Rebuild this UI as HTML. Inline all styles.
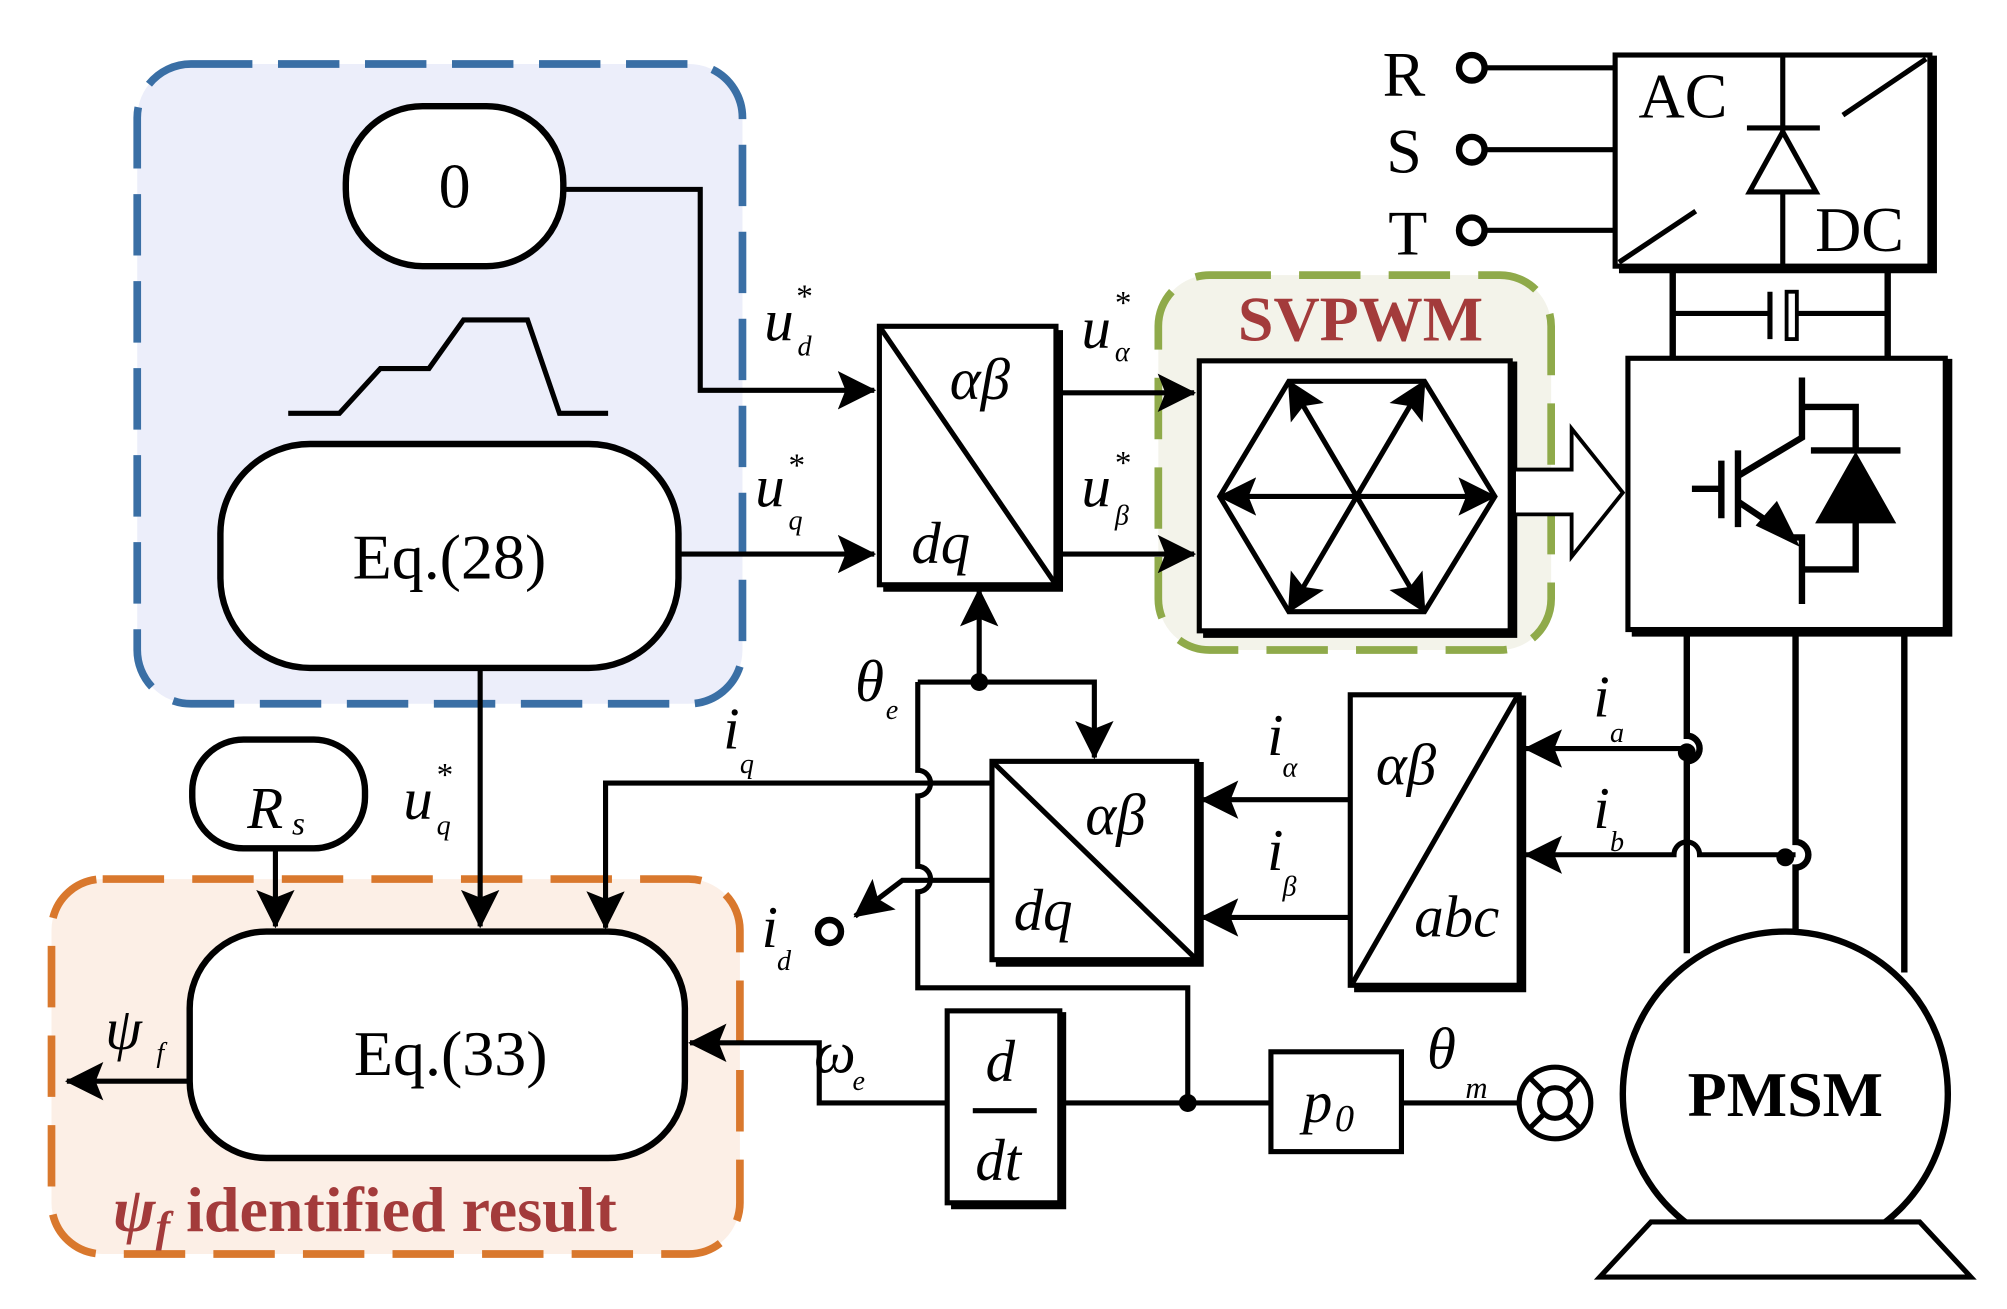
<!DOCTYPE html>
<html><head><meta charset="utf-8"><style>html,body{margin:0;padding:0;background:#fff}svg{display:block}</style></head>
<body>
<svg width="2007" height="1309" viewBox="0 0 1568 1023" xmlns="http://www.w3.org/2000/svg" font-family="Liberation Serif, serif">
<defs>
<marker id="A" viewBox="0 0 10 10" refX="9.5" refY="5" markerWidth="30" markerHeight="30" orient="auto" markerUnits="userSpaceOnUse"><path d="M0,0 L10,5 L0,10 L2,5 z" fill="#000"/></marker>
</defs>
<rect x="107" y="50" width="473" height="500" rx="42" fill="#eceefa" stroke="#3a6fa5" stroke-width="6" stroke-dasharray="48 20"/>
<rect x="905" y="215" width="307" height="293" rx="40" fill="#f3f3ea" stroke="#8faa4a" stroke-width="6" stroke-dasharray="48 22"/>
<rect x="40" y="687" width="538" height="293" rx="40" fill="#fcefe6" stroke="#d9782d" stroke-width="6" stroke-dasharray="48 22"/>

<g fill="none" stroke="#000" stroke-width="4">
<rect x="270" y="83" width="170" height="125" rx="60" fill="#fff" stroke-width="5"/>
<polyline points="225,323 265,323 297,288 335,288 362,250 412,250 437,323 475,323"/>
<rect x="172" y="347" width="358" height="175" rx="70" fill="#fff" stroke-width="5"/>
<polyline points="440,148 547,148 547,305 683,305" marker-end="url(#A)"/>
<line x1="530" y1="433" x2="683" y2="433" marker-end="url(#A)"/>
<rect x="687" y="255" width="138" height="202" fill="#fff" stroke-width="4"/>
<polyline points="690,460 828,460 828,258" stroke-width="5"/>
<line x1="687" y1="255" x2="825" y2="457" stroke-width="4"/>
<line x1="825" y1="307" x2="933" y2="307" marker-end="url(#A)"/>
<line x1="825" y1="433" x2="933" y2="433" marker-end="url(#A)"/>
<rect x="937" y="282" width="243" height="211" fill="#fff" stroke-width="4"/>
<polyline points="1180,285 1183,285 1183,496 940,496" stroke-width="5"/>
<polygon points="953,388 1007,298 1113,298 1168,388 1113,478 1007,478" stroke-width="4"/>
<line x1="1060" y1="388" x2="1007" y2="298" marker-end="url(#A)"/>
<line x1="1060" y1="388" x2="1113" y2="298" marker-end="url(#A)"/>
<line x1="1060" y1="388" x2="953" y2="388" marker-end="url(#A)"/>
<line x1="1060" y1="388" x2="1168" y2="388" marker-end="url(#A)"/>
<line x1="1060" y1="388" x2="1007" y2="478" marker-end="url(#A)"/>
<line x1="1060" y1="388" x2="1113" y2="478" marker-end="url(#A)"/>
<polygon points="1183,367 1228,367 1228,335 1268,385 1228,435 1228,402 1183,402" fill="#fff" stroke-width="3"/>
<rect x="1272" y="280" width="248" height="212" fill="#fff" stroke-width="4"/>
<polyline points="1520,283 1523,283 1523,495 1275,495" stroke-width="5"/>
<line x1="1322" y1="382" x2="1345" y2="382" stroke-width="5"/>
<line x1="1345" y1="360" x2="1345" y2="405" stroke-width="5"/>
<line x1="1358" y1="352" x2="1358" y2="412" stroke-width="5"/>
<polyline points="1358,372 1408,342 1408,295" stroke-width="5"/>
<polyline points="1358,392 1400,420 1408,420 1408,472" stroke-width="5"/>
<polygon points="1402,423 1375,410 1388,395" fill="#000"/>
<polyline points="1408,318 1450,318 1450,350" stroke-width="5"/>
<polyline points="1408,445 1450,445 1450,408" stroke-width="5"/>
<polygon points="1420,408 1480,408 1450,355" fill="#000" stroke-width="2"/>
<line x1="1415" y1="352" x2="1485" y2="352" stroke-width="5"/>
<rect x="1262" y="43" width="246" height="165" fill="#fff" stroke-width="4"/>
<polyline points="1508,46 1511,46 1511,211 1265,211" stroke-width="5"/>
<line x1="1265" y1="205" x2="1325" y2="165" stroke-width="4"/>
<line x1="1440" y1="90" x2="1505" y2="46" stroke-width="4"/>
<line x1="1393" y1="43" x2="1393" y2="208" stroke-width="4"/>
<line x1="1365" y1="100" x2="1422" y2="100" stroke-width="4"/>
<polygon points="1393,103 1367,150 1419,150" fill="#fff" stroke-width="4"/>
<line x1="1160" y1="53" x2="1262" y2="53"/><line x1="1160" y1="117" x2="1262" y2="117"/><line x1="1160" y1="180" x2="1262" y2="180"/>
<circle cx="1150" cy="53" r="10" fill="#fff" stroke-width="5"/><circle cx="1150" cy="117" r="10" fill="#fff" stroke-width="5"/><circle cx="1150" cy="180" r="10" fill="#fff" stroke-width="5"/>
<line x1="1307" y1="211" x2="1307" y2="280" stroke-width="5"/>
<line x1="1475" y1="211" x2="1475" y2="280" stroke-width="5"/>
<line x1="1307" y1="245" x2="1383" y2="245" stroke-width="4"/>
<line x1="1403" y1="245" x2="1475" y2="245" stroke-width="4"/>
<line x1="1383" y1="228" x2="1383" y2="265" stroke-width="4"/>
<rect x="1396" y="228" width="8" height="37" stroke-width="3"/>
<path d="M1318,495 V575 a10,10 0 0 1 0,20 V745" stroke-width="5"/>
<path d="M1403,495 V658 a10,10 0 0 1 0,20 V730" stroke-width="5"/>
<path d="M1488,495 V760" stroke-width="5"/>
<line x1="1318" y1="585" x2="1192" y2="585" marker-end="url(#A)"/>
<path d="M1403,668 H1328 a10,10 0 0 0 -20,0 H1192" marker-end="url(#A)"/>
<circle cx="1395" cy="855" r="127" fill="#fff" stroke-width="5"/>
<polygon points="1250,998 1540,998 1500,955 1290,955" fill="#fff" stroke-width="4"/>
<rect x="1055" y="543" width="132" height="227" fill="#fff" stroke-width="4"/>
<polyline points="1187,546 1190,546 1190,773 1058,773" stroke-width="5"/>
<line x1="1057" y1="768" x2="1185" y2="545" stroke-width="4"/>
<line x1="1055" y1="625" x2="939" y2="625" marker-end="url(#A)"/>
<line x1="1055" y1="717" x2="939" y2="717" marker-end="url(#A)"/>
<rect x="775" y="595" width="160" height="155" fill="#fff" stroke-width="4"/>
<polyline points="935,598 938,598 938,753 778,753" stroke-width="5"/>
<line x1="775" y1="595" x2="935" y2="750" stroke-width="4"/>
<line x1="765" y1="533" x2="765" y2="461" marker-end="url(#A)"/>
<polyline points="717,533 855,533 855,592" marker-end="url(#A)"/>
<path d="M717,533 V602 a10,10 0 0 1 0,20 V677 a10,10 0 0 1 0,20 V772 H928 V862"/>
<polyline points="775,612 473,612 473,725" marker-end="url(#A)"/>
<polyline points="775,688 705,688 668,716" marker-end="url(#A)"/>
<circle cx="648" cy="728" r="9" fill="#fff" stroke-width="5"/>
<rect x="150" y="578" width="135" height="85" rx="40" fill="#fff" stroke-width="5"/>
<line x1="215" y1="663" x2="215" y2="724" marker-end="url(#A)"/>
<line x1="375" y1="522" x2="375" y2="724" marker-end="url(#A)"/>
<rect x="148" y="728" width="387" height="177" rx="60" fill="#fff" stroke-width="5"/>
<line x1="148" y1="845" x2="52" y2="845" marker-end="url(#A)"/>
<polyline points="740,862 640,862 640,815 539,815" marker-end="url(#A)"/>
<rect x="740" y="790" width="88" height="150" fill="#fff" stroke-width="4"/>
<polyline points="828,793 831,793 831,943 743,943" stroke-width="4"/>
<line x1="760" y1="868" x2="810" y2="868"/>
<line x1="831" y1="862" x2="993" y2="862"/>
<rect x="993" y="822" width="102" height="78" fill="#fff" stroke-width="4"/>
<line x1="1095" y1="862" x2="1187" y2="862"/>
<circle cx="1215" cy="862" r="28" fill="#fff" stroke-width="4"/>
<circle cx="1215" cy="862" r="12" stroke-width="4"/>
<line x1="1195" y1="842" x2="1206" y2="853" stroke-width="4"/><line x1="1235" y1="842" x2="1224" y2="853" stroke-width="4"/>
<line x1="1195" y1="882" x2="1206" y2="871" stroke-width="4"/><line x1="1235" y1="882" x2="1224" y2="871" stroke-width="4"/>
</g>
<circle cx="765" cy="533" r="7"/><circle cx="928" cy="862" r="7"/>
<circle cx="1318" cy="588" r="7"/><circle cx="1395" cy="670" r="7"/>

<g font-size="50" text-anchor="middle">
<text x="355" y="162">0</text>
<text x="351" y="452">Eq.(28)</text>
<text x="352" y="840">Eq.(33)</text>
<text x="1097" y="75">R</text><text x="1097" y="135">S</text><text x="1100" y="199">T</text>
<text x="1315" y="92">AC</text><text x="1453" y="196">DC</text>
</g>
<g font-style="italic" font-size="46">
<text x="742" y="312">αβ</text><text x="712" y="440">dq</text>
<text x="848" y="652">αβ</text><text x="792" y="727">dq</text>
<text x="1075" y="613">αβ</text><text x="1105" y="732">abc</text>
<text x="770" y="845">d</text><text x="762" y="922">dt</text>
<text x="1018" y="877">p</text><text x="1043" y="884" font-size="30">0</text>
<text x="193" y="647">R</text><text x="228" y="652" font-size="26">s</text>
<text x="597" y="266">u</text><text x="623" y="278" font-size="22">d</text><text x="622" y="240" font-size="26" font-style="normal">*</text>
<text x="590" y="396">u</text><text x="616" y="414" font-size="22">q</text><text x="616" y="372" font-size="26" font-style="normal">*</text>
<text x="845" y="272">u</text><text x="871" y="282" font-size="22">α</text><text x="871" y="245" font-size="26" font-style="normal">*</text>
<text x="845" y="396">u</text><text x="871" y="410" font-size="22">β</text><text x="871" y="370" font-size="26" font-style="normal">*</text>
<text x="315" y="640">u</text><text x="341" y="652" font-size="22">q</text><text x="341" y="614" font-size="26" font-style="normal">*</text>
<text x="668" y="548">θ</text><text x="692" y="562" font-size="22">e</text>
<text x="565" y="585">i</text><text x="578" y="604" font-size="22">q</text>
<text x="990" y="590">i</text><text x="1002" y="607" font-size="22">α</text>
<text x="990" y="680">i</text><text x="1002" y="700" font-size="22">β</text>
<text x="1245" y="560">i</text><text x="1258" y="580" font-size="22">a</text>
<text x="1245" y="647">i</text><text x="1258" y="665" font-size="22">b</text>
<text x="595" y="740">i</text><text x="607" y="758" font-size="22">d</text>
<text x="82" y="820">ψ</text><text x="122" y="830" font-size="22">f</text>
<text x="636" y="838">ω</text><text x="666" y="852" font-size="22">e</text>
<text x="1115" y="835">θ</text><text x="1145" y="858" font-size="24">m</text>
</g>
<text x="1063" y="266" font-size="50" font-weight="bold" fill="#a33b3b" text-anchor="middle">SVPWM</text>
<text x="88" y="962" font-size="50" font-weight="bold" fill="#a33b3b"><tspan font-style="italic">ψ</tspan><tspan font-style="italic" font-size="34" dy="8">f</tspan><tspan dy="-8"> identified result</tspan></text>
<text x="1395" y="872" font-size="50" font-weight="bold" text-anchor="middle">PMSM</text>
</svg>
</body></html>
